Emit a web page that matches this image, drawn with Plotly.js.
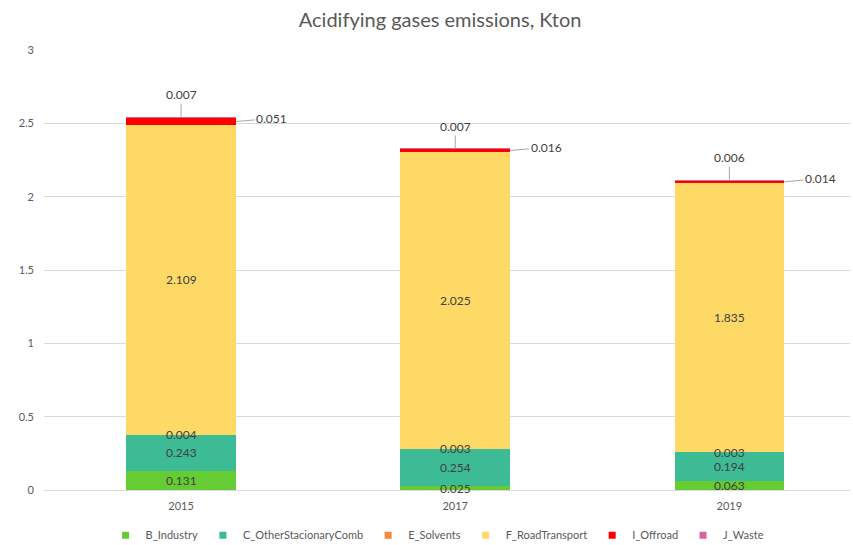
<!DOCTYPE html>
<html>
<head>
<meta charset="utf-8">
<script src="https://cdn.plot.ly/plotly-3.0.1.min.js"></script>
<style>html,body{margin:0;padding:0;background:#fff;}#chart{width:853px;height:545px;}</style>
</head>
<body>
<div id="chart"></div>
<script>
const years = ["2015", "2017", "2019"];
const seriesNames = ["B_Industry", "C_OtherStacionaryComb", "E_Solvents", "F_RoadTransport", "I_Offroad", "J_Waste"];
const B_Industry = [0.131, 0.025, 0.063];
const C_OtherStacionaryComb = [0.243, 0.254, 0.194];
const E_Solvents = [0.004, 0.003, 0.003];
const F_RoadTransport = [2.109, 2.025, 1.835];
const I_Offroad = [0.051, 0.016, 0.014];
const J_Waste = [0.007, 0.007, 0.006];
const yTicks = [0, 0.5, 1, 1.5, 2, 2.5, 3];

const colors = ["#66CC33", "#3DBB94", "#F5883A", "#FFD966", "#FF0000", "#D9649E"];
const values = [B_Industry, C_OtherStacionaryComb, E_Solvents, F_RoadTransport, I_Offroad, J_Waste];
const barWidth = 0.4;
const labelFont = {family: "Lato, 'Open Sans', sans-serif", size: 12, color: "#404040"};

const traces = values.map((v, k) => ({
  type: "bar",
  name: seriesNames[k],
  x: years,
  y: v,
  width: barWidth,
  marker: {color: colors[k], line: {width: 0}},
  textposition: "none",
  showlegend: false,
  hoverinfo: "name+y"
}));

// small square legend entries
seriesNames.forEach((n, k) => {
  traces.push({
    type: "scatter", mode: "markers", name: n, x: [null], y: [null],
    marker: {symbol: "square", size: 7, color: colors[k]}, showlegend: true, hoverinfo: "skip"
  });
});

const annotations = [];
years.forEach((yr, i) => {
  // inside labels for the first four series, drawn on top of all bars
  let base = 0;
  for (let k = 0; k < 4; k++) {
    const v = values[k][i];
    annotations.push({
      x: i, y: base + v / 2, xref: "x", yref: "y", text: v.toFixed(3),
      showarrow: false, font: labelFont, xanchor: "center", yanchor: "middle"
    });
    base += v;
  }
  const top = base + I_Offroad[i] + J_Waste[i];
  annotations.push({
    x: i, y: top, xref: "x", yref: "y",
    text: J_Waste[i].toFixed(3), showarrow: true, arrowhead: 0, arrowwidth: 1,
    arrowcolor: "#A6A6A6", ax: 0, ay: -22, font: labelFont, standoff: 0
  });
  annotations.push({
    x: i + barWidth / 2, y: base + I_Offroad[i] / 2, xref: "x", yref: "y",
    text: I_Offroad[i].toFixed(3), showarrow: true, arrowhead: 0, arrowwidth: 1,
    arrowcolor: "#A6A6A6", ax: 36, ay: -3, font: labelFont, standoff: 0
  });
});

const layout = {
  width: 853, height: 545,
  margin: {l: 44, r: 3, t: 50, b: 55},
  paper_bgcolor: "#fff", plot_bgcolor: "#fff",
  barmode: "stack",
  font: {family: "Lato, 'Open Sans', sans-serif", color: "#595959"},
  title: {text: "Acidifying gases emissions, Kton", font: {size: 20, color: "#595959"},
          x: 0.516, xanchor: "center", xref: "container", y: 0.963, yanchor: "middle", yref: "container"},
  xaxis: {type: "category", range: [-0.5, 2.44], showgrid: false, showline: true,
          linecolor: "#D9D9D9", linewidth: 1, ticks: "", tickfont: {size: 11, color: "#595959"},
          ticklabelstandoff: 6, automargin: false},
  yaxis: {range: [0, 3], tickvals: yTicks, ticktext: yTicks.map(String), showgrid: true,
          gridcolor: "#D9D9D9", gridwidth: 1, zeroline: false, ticks: "",
          tickfont: {size: 11, color: "#595959"}, ticklabelstandoff: 9, automargin: false},
  legend: {orientation: "h", x: 0.513, xanchor: "center", xref: "container",
           y: 0.018, yanchor: "middle", yref: "container",
           font: {size: 11, color: "#595959"}, traceorder: "normal", itemwidth: 30,
           tracegroupgap: 0},
  annotations: annotations,
  showlegend: true
};

Plotly.newPlot("chart", traces, layout, {displayModeBar: false, staticPlot: true});
</script>
</body>
</html>
